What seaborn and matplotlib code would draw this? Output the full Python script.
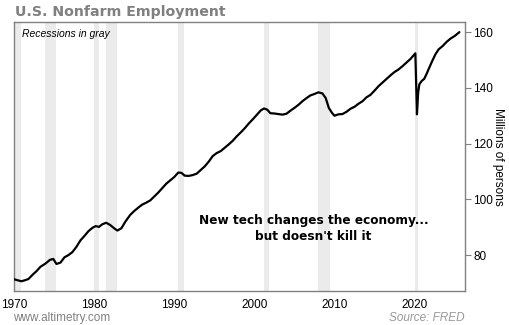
import matplotlib
matplotlib.use("Agg")
import matplotlib.pyplot as plt
import seaborn as sns
import pandas as pd

# Total nonfarm payrolls, millions of persons (fractional year)
years = [1970.0, 1970.4, 1970.9, 1971.3, 1971.8, 1972.3, 1972.8, 1973.3, 1973.9,
         1974.5, 1974.9, 1975.3, 1975.8, 1976.3, 1976.8, 1977.3, 1977.8, 1978.3,
         1978.8, 1979.3, 1979.8, 1980.2, 1980.6, 1981.0, 1981.5, 1982.0, 1982.5,
         1982.9, 1983.4, 1983.9, 1984.5, 1985.0, 1985.5, 1986.0, 1986.5, 1987.0,
         1987.5, 1988.0, 1988.5, 1989.0, 1989.5, 1990.0, 1990.5, 1990.9, 1991.3,
         1991.8, 1992.3, 1992.8, 1993.3, 1993.8, 1994.3, 1994.8, 1995.3, 1995.8,
         1996.3, 1996.8, 1997.3, 1997.8, 1998.3, 1998.8, 1999.3, 1999.8, 2000.3,
         2000.8, 2001.2, 2001.6, 2002.0, 2002.5, 2003.0, 2003.5, 2004.0, 2004.5,
         2005.0, 2005.5, 2006.0, 2006.5, 2007.0, 2007.5, 2008.0, 2008.5, 2008.9,
         2009.3, 2009.7, 2010.0, 2010.5, 2011.0, 2011.5, 2012.0, 2012.5, 2013.0,
         2013.5, 2014.0, 2014.5, 2015.0, 2015.5, 2016.0, 2016.5, 2017.0, 2017.5,
         2018.0, 2018.5, 2019.0, 2019.5, 2020.1, 2020.3, 2020.45, 2020.6, 2020.9,
         2021.2, 2021.5, 2021.8, 2022.2, 2022.6, 2023.0, 2023.5, 2024.0, 2024.5,
         2025.0, 2025.6]
employment = [71.3, 71.0, 70.6, 70.9, 71.4, 72.9, 74.2, 75.8, 76.9,
              78.3, 78.6, 76.8, 77.3, 79.2, 80.0, 81.1, 83.0, 85.3,
              86.9, 88.6, 89.8, 90.4, 90.1, 91.0, 91.6, 90.8, 89.6,
              88.8, 89.6, 92.0, 94.4, 95.8, 97.0, 98.1, 98.8, 99.6,
              101.0, 102.4, 104.0, 105.6, 106.8, 108.0, 109.6, 109.5, 108.5,
              108.4, 108.7, 109.2, 110.5, 111.8, 113.5, 115.5, 116.6, 117.3,
              118.5, 119.7, 121.0, 122.6, 124.0, 125.5, 127.2, 128.7, 130.3,
              131.9, 132.6, 132.2, 130.9, 130.8, 130.6, 130.4, 130.7, 131.8,
              132.8, 133.9, 135.2, 136.3, 137.3, 137.8, 138.4, 138.0, 136.4,
              132.8, 131.0, 130.0, 130.5, 130.6, 131.4, 132.5, 133.2, 134.3,
              135.2, 136.6, 137.5, 139.0, 140.6, 141.9, 143.2, 144.5, 145.7,
              146.6, 147.8, 149.1, 150.4, 152.4, 130.5, 138.3, 141.3, 142.5,
              143.2, 145.0, 147.0, 149.6, 152.0, 153.8, 155.0, 156.5, 157.7,
              158.6, 160.0]

# NBER recessions (start, end)
recession_start = [1969.95, 1973.88, 1980.0, 1981.5, 1990.5, 2001.2, 2007.92, 2020.1]
recession_end = [1970.9, 1975.2, 1980.55, 1982.87, 1991.2, 2001.87, 2009.5, 2020.45]

x_ticks = [1970, 1980, 1990, 2000, 2010, 2020]
y_ticks = [80, 100, 120, 140, 160]

df = pd.DataFrame({"year": years, "employment": employment})

sns.set_theme(style="white")
plt.rcParams["font.family"] = ["Liberation Sans", "DejaVu Sans"]

fig = plt.figure(figsize=(5.10, 3.25), dpi=100)
ax = fig.add_axes([0.0275, 0.1046, 0.8843, 0.8274])

for s, e in zip(recession_start, recession_end):
    ax.axvspan(s, e, color="#ebebeb", lw=0, zorder=0)

sns.lineplot(data=df, x="year", y="employment", ax=ax, color="black",
             linewidth=1.6, zorder=3)

ax.set_xlim(1970, 2026.3)
ax.set_ylim(67.1, 163.6)
ax.set_xticks(x_ticks)
ax.set_xticklabels([str(t) for t in x_ticks])
ax.set_yticks(y_ticks)
ax.yaxis.tick_right()
ax.yaxis.set_label_position("right")
ax.set_xlabel("")
ax.set_ylabel("Millions of persons", rotation=270, labelpad=8,
              fontsize=8.5, color="black")
ax.tick_params(axis="both", which="major", labelsize=8.5, colors="black",
               length=4, width=0.8, direction="out", pad=2)
ax.tick_params(axis="both", color="#808080")
for sp in ax.spines.values():
    sp.set_color("#808080")
    sp.set_linewidth(1.0)

fig.text(0.03, 0.963, "U.S. Nonfarm Employment", fontsize=10.2,
         fontweight="bold", color="#808080", family="DejaVu Sans",
         va="center", ha="left")
ax.text(0.018, 0.975, "Recessions in gray", transform=ax.transAxes,
        fontsize=7.5, fontstyle="italic", color="black", va="top", ha="left")
ax.text(2007.4, 89.5, "New tech changes the economy...\nbut doesn't kill it",
        fontsize=8.7, fontweight="bold", family="DejaVu Sans",
        ha="center", va="center", linespacing=1.25, color="black")

fig.text(0.026, 0.022, "www.altimetry.com", fontsize=8.5, color="#808080",
         ha="left", va="center")
fig.text(0.912, 0.022, "Source: FRED", fontsize=8.5, color="#999999",
         fontstyle="italic", ha="right", va="center")

fig.savefig("out.png", dpi=100)
